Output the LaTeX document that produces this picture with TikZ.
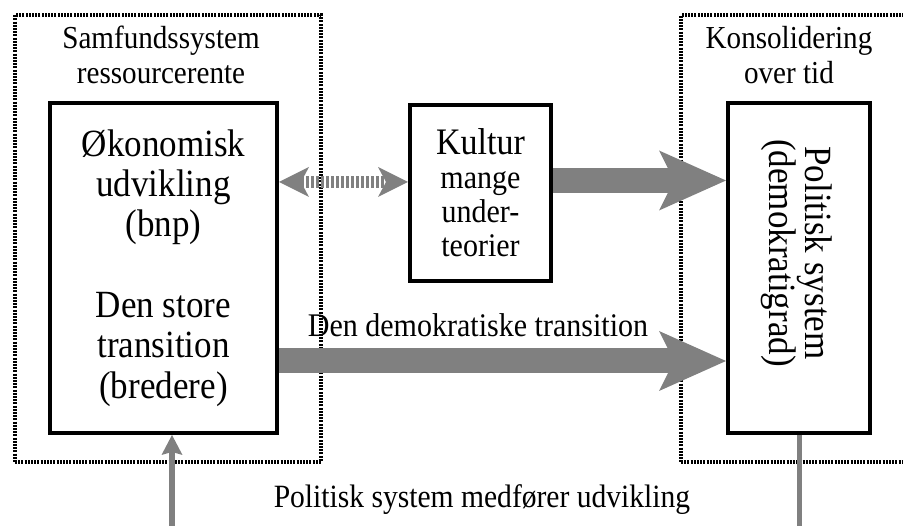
\documentclass[tikz,border=0pt]{standalone}
\usepackage{fontspec}
\setmainfont{Liberation Serif}[FakeStretch=0.91]
\usetikzlibrary{arrows.meta}
\definecolor{arrowgray}{HTML}{808080}
\tikzset{
  frame/.style={draw, line width=3.5pt, dash pattern=on 2pt off 1.2pt, inner sep=0pt},
  box/.style={draw, line width=4pt, inner sep=0pt, align=center},
  title/.style={align=center, inner sep=0pt, font=\fontsize{32}{35}\selectfont},
  bigarrow/.style={draw=arrowgray, line width=25pt,
    -{Stealth[length=67pt,width=60pt,inset=15pt,line width=0pt]}},
  dotarrow/.style={draw=arrowgray, line width=12pt, dash pattern=on 3pt off 2pt,
    {Stealth[length=30pt,width=30pt,inset=8pt,line width=0pt]}-{Stealth[length=30pt,width=30pt,inset=8pt,line width=0pt]}},
  thinarrow/.style={draw=arrowgray, line width=6pt,
    -{Stealth[length=20pt,width=21pt,inset=3pt,line width=0pt]}},
  thinline/.style={draw=arrowgray, line width=5pt}
}
\begin{document}
\begin{tikzpicture}[x=1pt,y=-1pt]
            \clip (0,0) rectangle (903,526);
            \node[frame, minimum width=306, minimum height=447] (samfund) at (168,238.5) {};
            \node[frame, minimum width=269, minimum height=447] (konsol) at (815.5,238.5) {};
            \node[title] (samfundtxt) at (161,55) {Samfundssystem\\ressourcerente};
            \node[title] (konsoltxt) at (789,55) {Konsolidering\\over tid};
            \node[box, minimum width=227, minimum height=330, font=\fontsize{38.5}{40.3}\selectfont] (econ) at (163.5,268)
              {Økonomisk\\udvikling\\(bnp)\\[40.3pt]Den store\\transition\\(bredere)};
            \node[box, minimum width=141, minimum height=176, font=\fontsize{33}{34}\selectfont] (kultur) at (480.5,193)
              {{\fontsize{37.4}{34}\selectfont Kultur}\\mange\\under-\\teorier};
            \node[box, minimum width=142, minimum height=330] (politisk) at (799,268) {};
            \node[rotate=-90, align=center, inner sep=0pt, font=\fontsize{38.5}{35}\selectfont] (politisktxt) at (797,253)
              {Politisk system\\(demokratigrad)};
            \coordinate (dotrow) at (0,182);
            \coordinate (upper) at (0,180.5);
            \coordinate (lower) at (0,361);
            \coordinate (botL) at (172,530);
            \coordinate (botR) at (799,530);
            \draw[dotarrow] (econ.east |- dotrow) -- (kultur.west |- dotrow);
            \draw[bigarrow] (kultur.east |- upper) -- (politisk.west |- upper);
            \draw[bigarrow] (econ.east |- lower) -- (politisk.west |- lower);
            \node[anchor=base, inner sep=0pt, font=\fontsize{33}{34}\selectfont] (demotrans) at (478,337) {Den demokratiske transition};
            \draw[thinarrow] (botL) -- (econ.south -| botL);
            \draw[thinline] (politisk.south -| botR) -- (botR);
            \node[anchor=base, inner sep=0pt, font=\fontsize{32.5}{34}\selectfont] (feedback) at (482,508) {Politisk system medfører udvikling};
\end{tikzpicture}
\end{document}
